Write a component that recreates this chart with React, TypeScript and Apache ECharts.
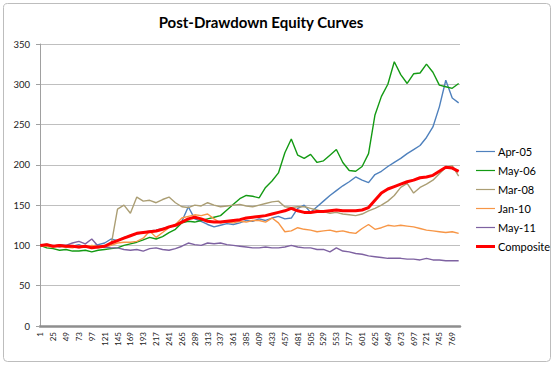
import React, { useEffect, useRef } from "react";
import * as echarts from "echarts";

const titleText = "Post-Drawdown Equity Curves";
const dayCount = 783;
const categories: string[] = Array.from({ length: dayCount }, (_, i) => String(i + 1));
const yTicks = { min: 0, max: 350, interval: 50 };

// sample days (x positions, category index = day - 1)
const days = [
  1, 13, 25, 37, 49, 61, 73, 85, 97, 109, 121, 133, 145, 157, 169, 181, 193, 205, 217, 229,
  241, 253, 265, 277, 289, 301, 313, 325, 337, 349, 361, 373, 385, 397, 409, 421, 433, 445, 457, 469,
  481, 493, 505, 517, 529, 541, 553, 565, 577, 589, 601, 613, 625, 637, 649, 661, 673, 685, 697, 709,
  721, 733, 745, 757, 769, 781,
];

const apr05 = [
  100, 99, 100, 98, 100, 99, 101, 98, 99, 101, 103, 108, 106, 110, 112, 114, 116, 118, 119, 121,
  123, 125, 130, 148, 133, 130, 126, 123, 125, 127, 126, 128, 131, 130, 133, 131, 134, 136, 133, 134,
  146, 150, 141, 148, 155, 162, 168, 174, 179, 185, 181, 178, 188, 192, 198, 203, 208, 214, 219, 224,
  234, 247, 272, 305, 283, 277,
];
const may06 = [
  100, 97, 96, 94, 95, 93, 93, 94, 92, 94, 95, 96, 97, 100, 102, 104, 107, 110, 108, 111,
  116, 120, 128, 130, 129, 131, 133, 135, 137, 144, 151, 158, 162, 161, 159, 172, 180, 190, 215, 232,
  212, 208, 213, 203, 205, 212, 219, 203, 193, 192, 198, 214, 262, 285, 300, 328, 312, 301, 313, 314,
  325, 315, 299, 297, 295, 301,
];
const mar08 = [
  100, 102, 99, 100, 98, 99, 97, 99, 98, 97, 99, 100, 145, 150, 140, 160, 155, 156, 153, 157,
  160, 153, 148, 147, 150, 149, 153, 150, 148, 149, 150, 151, 149, 148, 150, 152, 154, 155, 148, 147,
  148, 148, 146, 144, 142, 140, 141, 139, 138, 137, 139, 143, 146, 150, 155, 162, 172, 177, 165, 172,
  176, 181, 189, 197, 199, 186,
];
const jan10 = [
  100, 99, 98, 99, 98, 97, 99, 98, 100, 99, 98, 100, 103, 104, 104, 105, 109, 118, 110, 116,
  122, 126, 134, 136, 138, 137, 139, 133, 128, 129, 128, 130, 129, 131, 131, 129, 134, 128, 117, 118,
  122, 120, 119, 117, 118, 119, 117, 118, 116, 115, 121, 126, 120, 122, 125, 124, 125, 124, 123, 121,
  119, 118, 117, 116, 117, 115,
];
const may11 = [
  100, 101, 99, 101, 100, 103, 105, 102, 108, 99, 98, 97, 97, 95, 94, 95, 93, 96, 97, 95,
  94, 96, 99, 103, 101, 100, 103, 102, 103, 101, 100, 99, 98, 97, 97, 98, 97, 97, 98, 100,
  98, 97, 97, 95, 95, 92, 97, 93, 92, 90, 89, 87, 86, 85, 84, 84, 84, 83, 83, 82,
  84, 82, 82, 81, 81, 81,
];
const composite = [
  100, 101, 99, 100, 99, 99, 98, 99, 97, 98, 99, 103, 106, 109, 112, 115, 116, 117, 118, 120,
  123, 125, 129, 133, 135, 133, 130, 129, 129, 130, 131, 132, 134, 135, 136, 137, 139, 141, 143, 146,
  143, 141, 141, 142, 142, 143, 144, 143, 143, 143, 144, 147, 156, 165, 170, 173, 176, 179, 181, 184,
  185, 187, 192, 197, 196, 192,
];

const seriesNames = ["Apr-05", "May-06", "Mar-08", "Jan-10", "May-11", "Composite"];
const seriesValues = [apr05, may06, mar08, jan10, may11, composite];
const seriesColors = ["#4F81BD", "#139A13", "#AB9E74", "#F79646", "#7E62A1", "#FF0000"];
const seriesWidths = [1.4, 1.4, 1.4, 1.4, 1.4, 3];

const FONT = "Lato, 'Open Sans', sans-serif";

export default function App() {
  const ref = useRef<HTMLDivElement>(null);
  useEffect(() => {
    if (!ref.current) return;
    const chart = echarts.init(ref.current, undefined, { renderer: "svg" });
    chart.setOption({
      animation: false,
      backgroundColor: "#ffffff",
      graphic: [
        {
          type: "rect",
          shape: { x: 3.5, y: 3.5, width: 547, height: 358, r: 4 },
          style: { fill: "none", stroke: "#bdbdbd", lineWidth: 1 },
          silent: true,
          z: -10,
        },
        {
          type: "text",
          x: 261,
          y: 22,
          style: {
            text: titleText,
            fill: "#000",
            font: `bold 15px ${FONT}`,
            textAlign: "center",
            textVerticalAlign: "middle",
          },
        },
      ],
      legend: {
        orient: "vertical",
        left: 476,
        top: 146,
        padding: 0,
        itemWidth: 19,
        itemHeight: 10,
        itemGap: 8,
        data: seriesNames.map((n, i) => ({
          name: n,
          icon: `path://M0,${i === 5 ? 3.5 : 4.4}h19v${i === 5 ? 3 : 1.2}h-19z`,
        })),
        textStyle: { fontFamily: FONT, fontSize: 11, color: "#000", padding: [0, 0, 0, -2] },
      },
      grid: { left: 40, right: 96, top: 44, bottom: 40, containLabel: false },
      xAxis: {
        type: "category",
        data: categories,
        boundaryGap: true,
        axisLine: { lineStyle: { color: "#8e8e8e", width: 2.5 } },
        axisTick: { show: false },
        axisLabel: {
          interval: 23,
          rotate: 90,
          fontSize: 8,
          fontFamily: FONT,
          color: "#222",
          margin: 6,
        },
        splitLine: { show: false },
      },
      yAxis: {
        type: "value",
        min: yTicks.min,
        max: yTicks.max,
        interval: yTicks.interval,
        axisLine: { show: true, lineStyle: { color: "#a0a0a0", width: 1 } },
        axisTick: { show: true, length: 4, lineStyle: { color: "#a0a0a0" } },
        axisLabel: { fontSize: 9.5, fontFamily: FONT, color: "#222", margin: 10 },
        splitLine: { lineStyle: { color: "#bfbfbf", width: 1.2 } },
      },
      series: seriesNames.map((name, i) => ({
        name,
        type: "line",
        data: days.map((d, j) => [d - 1, seriesValues[i][j]]),
        showSymbol: false,
        symbol: "none",
        lineStyle: { color: seriesColors[i], width: seriesWidths[i] },
        itemStyle: { color: seriesColors[i] },
        z: i === 5 ? 5 : 2,
      })),
    });
    return () => chart.dispose();
  }, []);
  return (
    <div
      ref={ref}
      style={{ position: "absolute", left: 0, top: 0, width: 556, height: 366 }}
    />
  );
}
